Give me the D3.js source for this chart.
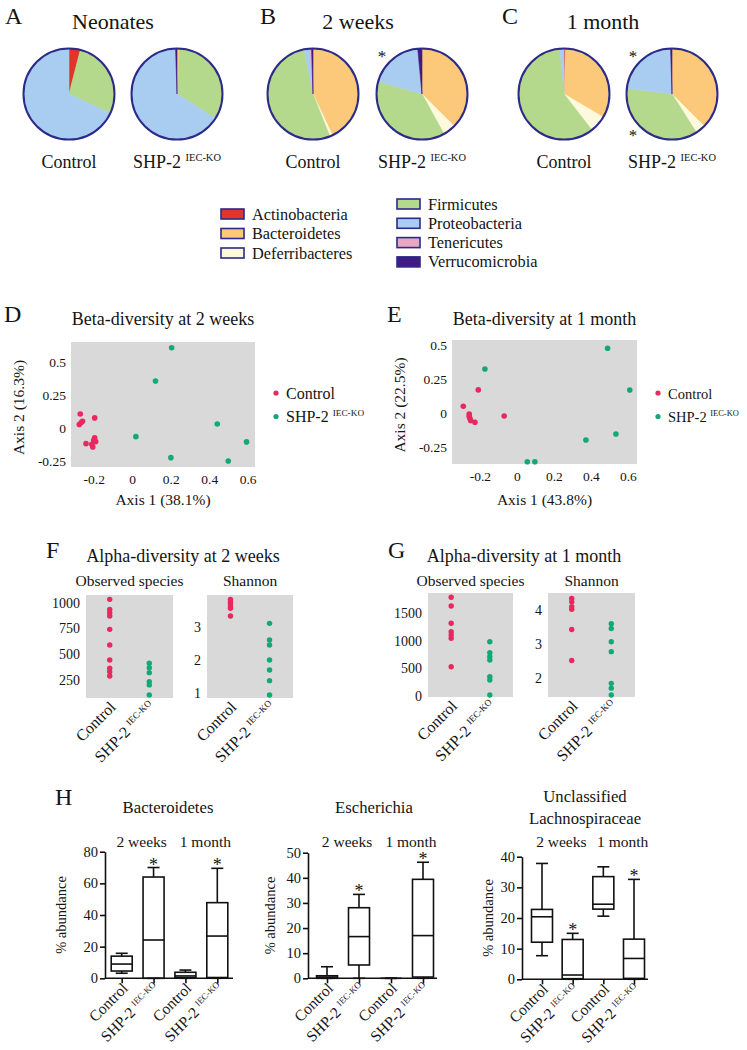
<!DOCTYPE html>
<html><head><meta charset="utf-8">
<script src="https://cdn.jsdelivr.net/npm/d3@7"></script>
<style>
body{margin:0;background:#fff}
svg{display:block;font-family:"Liberation Serif","Times New Roman",serif}
text{fill:#141414;font-family:"Liberation Serif","Times New Roman",serif}
</style>
</head><body><script>
// ---------------- DATA ----------------
const phyla = ["Actinobacteria","Bacteroidetes","Deferribacteres","Firmicutes","Proteobacteria","Tenericutes","Verrucomicrobia"];
// relative abundance (%) per phylum, in the order of `phyla`
const pieNeonatesControl = [4, 0, 0, 28, 68, 0, 0];
const pieNeonatesKO      = [0, 1, 0, 33, 65.5, 0, 0.5];
const pie2wControl       = [0, 43, 1, 53, 2, 0.5, 0.5];
const pie2wKO            = [0, 37.5, 4.5, 37.5, 19, 0, 1.5];
const pie1mControl       = [0.5, 33, 6, 59, 1.5, 0, 0];
const pie1mKO            = [0, 37.5, 3.5, 36, 22.5, 0, 0.5];
const pieTitles = ["Neonates","2 weeks","1 month"];

// Beta diversity PCoA coordinates [axis1, axis2]
const beta2wControl = [[-0.27,0.11],[-0.275,0.03],[-0.265,0.045],[-0.258,0.055],[-0.195,0.08],[-0.24,-0.115],[-0.205,-0.14],[-0.195,-0.07],[-0.19,-0.1],[-0.21,-0.12],[-0.2,-0.09]];
const beta2wKO      = [[0.205,0.612],[0.121,0.36],[0.019,-0.062],[0.201,-0.221],[0.442,0.034],[0.499,-0.246],[0.594,-0.102]];
const beta1mControl = [[-0.29,0.05],[-0.209,0.17],[-0.258,-0.007],[-0.254,-0.04],[-0.25,-0.055],[-0.227,-0.068],[-0.069,-0.022],[-0.258,-0.025]];
const beta1mKO      = [[-0.173,0.324],[0.49,0.476],[0.61,0.169],[0.535,-0.154],[0.373,-0.199],[0.056,-0.358],[0.097,-0.358]];
const betaXTicks = [-0.2, 0, 0.2, 0.4, 0.6];
const betaYTicks = [-0.25, 0, 0.25, 0.5];

// Alpha diversity
const alphaObs2wControl = [1032,935,902,870,741,589,444,363,330,289];
const alphaObs2wKO      = [412,369,321,234,202,105];
const alphaSha2wControl = [3.82,3.75,3.68,3.6,3.55,3.32];
const alphaSha2wKO      = [3.1,2.6,2.45,2.0,1.7,1.38,0.95];
const alphaObs1mControl = [1788,1630,1317,1165,1105,1045,531];
const alphaObs1mKO      = [984,785,712,652,350,290,18];
const alphaSha1mControl = [4.34,4.24,4.1,4.02,3.43,2.52];
const alphaSha1mKO      = [3.6,3.46,3.07,2.78,1.85,1.71,1.51];
const alphaObs2wTicks = [250,500,750,1000];
const alphaSha2wTicks = [1,2,3];
const alphaObs1mTicks = [0,500,1000,1500];
const alphaSha1mTicks = [2,3,4];

// Box plots: [min, q1, median, q3, max] for Control 2w, KO 2w, Control 1m, KO 1m
const boxCategories = ["Control 2w","KO 2w","Control 1m","KO 1m"];
const boxBacteroidetes = [[3.2,4.6,9,14,15.8],[0,0,24.2,64,70],[0,0.5,1.5,3.8,5.2],[0,0.5,26.7,47.8,69.5]];
const boxEscherichia   = [[0,0,0.5,1,4.6],[0,5.3,16.6,28.1,33.4],[0,0,0,0,0],[0,0.5,17,39.4,46.2]];
const boxLachno        = [[7.7,12.1,20.4,22.8,37.8],[0,0.2,1.4,13,15],[20.6,22.9,24.5,33.5,36.7],[0,0.3,6.8,13.1,32.6]];
const boxSignificant   = [false,true,false,true];
const bactTicks = [0,20,40,60,80];
const eschTicks = [0,10,20,30,40,50];
const lachTicks = [0,10,20,30,40];

// ---------------- STYLE ----------------
const phylumColors = ["#e2342a","#fcc97a","#fdf9dc","#b4d88c","#a9cdf0","#e8a7c4","#421a84"];
const navy = "#2c2a8a";
const ctrlColor = "#e8285f", koColor = "#13a877", panelBg = "#d9d9d9";
const plain = d => String(d);

const svg = d3.select("body").append("svg").attr("width",747).attr("height",1050);

function txt(x,y,s,size,anchor){
  return svg.append("text").attr("x",x).attr("y",y).attr("font-size",size)
    .attr("text-anchor",anchor||"middle").text(s);
}
function koLabel(x,y,size,anchor,rot){
  const t = svg.append("text").attr("x",x).attr("y",y).attr("font-size",size).attr("text-anchor",anchor||"middle");
  if(rot) t.attr("transform",`rotate(${rot},${x},${y})`);
  t.append("tspan").text("SHP-2 ");
  t.append("tspan").attr("font-size",size*0.58).attr("dy",-size*0.38).text("IEC-KO");
  return t;
}
function styleAxisText(g,size){
  g.attr("font-family",null).attr("font-size",size);
  g.selectAll("text").attr("font-size",size);
}

// ---------------- PANEL LETTERS ----------------
[["A",5,24],["B",260,24],["C",502,24],["D",4,322],["E",387,322],["F",46,558],["G",388,558],["H",55,805]]
  .forEach(([l,x,y])=>txt(x,y,l,24,"start"));

// ---------------- PIES ----------------
const pieSets = [[pieNeonatesControl,pieNeonatesKO],[pie2wControl,pie2wKO],[pie1mControl,pie1mKO]];
const pieCx = [[69,177],[313,422],[564,672]];
const pieCy = 94, pieR = 45.5;
const titleX = [113,358,603];
const pieGen = d3.pie().sort(null).value(d=>d.v);
const arcGen = d3.arc().innerRadius(0).outerRadius(pieR);
pieSets.forEach((pair,gi)=>{
  txt(titleX[gi], 29, pieTitles[gi], 22);
  pair.forEach((vals,k)=>{
    const cx = pieCx[gi][k];
    const g = svg.append("g").attr("transform",`translate(${cx},${pieCy})`);
    const arcs = pieGen(vals.map((v,i)=>({v,i}))).filter(a=>a.data.v>0);
    g.selectAll("path").data(arcs).join("path").attr("d",arcGen)
      .attr("fill",d=>phylumColors[d.data.i]).attr("stroke",d=>phylumColors[d.data.i]).attr("stroke-width",0.6);
    g.append("circle").attr("r",pieR).attr("fill","none").attr("stroke",navy).attr("stroke-width",2);
    if(k===0) txt(cx,168,"Control",18); else koLabel(cx,168,18);
  });
});
// significance stars on pies
txt(pieCx[1][1]-40, 62, "*", 17);
txt(pieCx[2][1]-39, 62, "*", 17);
txt(pieCx[2][1]-39, 141, "*", 17);

// pie legend
phyla.forEach((p,i)=>{
  const left = i<3;
  const sx = left ? 221 : 397;
  const sy = left ? 214 + i*19.5 : 204 + (i-3)*19.3;
  svg.append("rect").attr("x",sx).attr("y",sy-5).attr("width",23).attr("height",10)
    .attr("fill",phylumColors[i]).attr("stroke",navy).attr("stroke-width",1.6);
  txt(sx+31, sy+5.5, p, 16.3, "start");
});

// ---------------- BETA DIVERSITY ----------------
function drawBeta(c){
  const x = d3.scaleLinear().domain(c.xDom).range([c.x0,c.x1]);
  const y = d3.scaleLinear().domain(c.yDom).range([c.y1,c.y0]);
  svg.append("rect").attr("x",c.x0).attr("y",c.y0).attr("width",c.x1-c.x0).attr("height",c.y1-c.y0).attr("fill",panelBg);
  txt((c.x0+c.x1)/2, 325, c.title, 18);
  const gx = svg.append("g").attr("transform",`translate(0,${c.y1})`)
    .call(d3.axisBottom(x).tickValues(betaXTicks).tickSize(0).tickPadding(7).tickFormat(plain));
  const gy = svg.append("g").attr("transform",`translate(${c.x0},0)`)
    .call(d3.axisLeft(y).tickValues(betaYTicks).tickSize(0).tickPadding(5).tickFormat(plain));
  [gx,gy].forEach(g=>{g.select(".domain").remove(); styleAxisText(g,13.5);});
  txt((c.x0+c.x1)/2, 505, c.xLabel, 15.5);
  txt(0,0,c.yLabel,15.5).attr("transform",`translate(${c.yLabX},${(c.y0+c.y1)/2+3}) rotate(-90)`);
  svg.append("g").selectAll("circle").data(c.control).join("circle")
    .attr("cx",d=>x(d[0])).attr("cy",d=>y(d[1])).attr("r",2.8).attr("fill",ctrlColor);
  svg.append("g").selectAll("circle").data(c.ko).join("circle")
    .attr("cx",d=>x(d[0])).attr("cy",d=>y(d[1])).attr("r",2.8).attr("fill",koColor);
  svg.append("circle").attr("cx",c.legX).attr("cy",393).attr("r",2.6).attr("fill",ctrlColor);
  txt(c.legX+10, 398.5, "Control", c.legSize, "start");
  svg.append("circle").attr("cx",c.legX).attr("cy",416.5).attr("r",2.6).attr("fill",koColor);
  koLabel(c.legX+10, 422, c.legSize, "start");
}
drawBeta({x0:71,x1:255,y0:342,y1:467,xDom:[-0.318,0.638],yDom:[-0.292,0.655],
  title:"Beta-diversity at 2 weeks",xLabel:"Axis 1 (38.1%)",yLabel:"Axis 2 (16.3%)",yLabX:24,legX:276,legSize:16,
  control:beta2wControl,ko:beta2wKO});
drawBeta({x0:452,x1:637,y0:340,y1:464,xDom:[-0.351,0.649],yDom:[-0.375,0.537],
  title:"Beta-diversity at 1 month",xLabel:"Axis 1 (43.8%)",yLabel:"Axis 2 (22.5%)",yLabX:405,legX:658,legSize:14.5,
  control:beta1mControl,ko:beta1mKO});

// ---------------- ALPHA DIVERSITY ----------------
function drawAlpha(c){
  const x = d3.scalePoint().domain(["Control","KO"]).range([c.x0,c.x1]).padding(0.6);
  const y = d3.scaleLinear().domain(c.yDom).range([c.y1,c.y0]);
  svg.append("rect").attr("x",c.x0).attr("y",c.y0).attr("width",c.x1-c.x0).attr("height",c.y1-c.y0).attr("fill",panelBg);
  txt((c.x0+c.x1)/2, 586, c.title, 15.5);
  const gy = svg.append("g").attr("transform",`translate(${c.x0},0)`)
    .call(d3.axisLeft(y).tickValues(c.ticks).tickSize(0).tickPadding(6).tickFormat(plain));
  gy.select(".domain").remove(); styleAxisText(gy,14);
  [["Control",c.control,ctrlColor],["KO",c.ko,koColor]].forEach(([k,vals,col])=>{
    svg.append("g").selectAll("circle").data(vals).join("circle")
      .attr("cx",x(k)).attr("cy",d=>y(d)).attr("r",2.7).attr("fill",col);
  });
  const xc = x("Control")+7, xk = x("KO")+7, yb = c.y1+10;
  txt(xc, yb, "Control", 16, "end").attr("transform",`rotate(-45,${xc},${yb})`);
  koLabel(xk, yb, 16, "end", -45);
}
txt(183, 562, "Alpha-diversity at 2 weeks", 18);
txt(524, 562, "Alpha-diversity at 1 month", 18);
drawAlpha({x0:86,x1:173,y0:595,y1:698,yDom:[75,1074],ticks:alphaObs2wTicks,title:"Observed species",control:alphaObs2wControl,ko:alphaObs2wKO});
drawAlpha({x0:207,x1:293,y0:595,y1:698,yDom:[0.86,3.95],ticks:alphaSha2wTicks,title:"Shannon",control:alphaSha2wControl,ko:alphaSha2wKO});
drawAlpha({x0:428,x1:513,y0:593,y1:697,yDom:[-18,1866],ticks:alphaObs1mTicks,title:"Observed species",control:alphaObs1mControl,ko:alphaObs1mKO});
drawAlpha({x0:548,x1:635,y0:593,y1:697,yDom:[1.45,4.5],ticks:alphaSha1mTicks,title:"Shannon",control:alphaSha1mControl,ko:alphaSha1mKO});

// ---------------- BOX PLOTS ----------------
function drawBox(c){
  const y = d3.scaleLinear().domain([0,c.ticks[c.ticks.length-1]]).range([c.yBase,c.yTop]);
  const x = d3.scalePoint().domain(boxCategories).range(c.catRange);
  const g = svg.append("g");
  const gy = g.append("g").attr("transform",`translate(${c.axisX},0)`)
    .call(d3.axisLeft(y).tickValues(c.ticks).tickSize(5).tickSizeOuter(0).tickPadding(2).tickFormat(plain));
  styleAxisText(gy,14.5);
  gy.selectAll("line,path").attr("stroke","#111").attr("stroke-width",1.6);
  const gx = g.append("g").attr("transform",`translate(0,${c.yBase})`)
    .call(d3.axisBottom(x).tickSize(5).tickSizeOuter(0).tickFormat(""));
  gx.select(".domain").remove();
  gx.selectAll("line").attr("stroke","#111").attr("stroke-width",1.6);
  g.append("line").attr("x1",c.axisX).attr("x2",c.axisEnd).attr("y1",c.yBase).attr("y2",c.yBase)
    .attr("stroke","#111").attr("stroke-width",1.6);
  const bw = 21, cw = 12;
  c.data.forEach((s,i)=>{
    const cx = x(boxCategories[i]);
    const bg = g.append("g").attr("stroke","#111").attr("stroke-width",1.6).attr("fill","none");
    bg.append("line").attr("x1",cx).attr("x2",cx).attr("y1",y(s[4])).attr("y2",y(s[3]));
    bg.append("line").attr("x1",cx).attr("x2",cx).attr("y1",y(s[1])).attr("y2",y(s[0]));
    bg.append("line").attr("x1",cx-cw/2).attr("x2",cx+cw/2).attr("y1",y(s[4])).attr("y2",y(s[4]));
    bg.append("line").attr("x1",cx-cw/2).attr("x2",cx+cw/2).attr("y1",y(s[0])).attr("y2",y(s[0]));
    bg.append("rect").attr("x",cx-bw/2).attr("y",y(s[3])).attr("width",bw).attr("height",y(s[1])-y(s[3]));
    bg.append("line").attr("x1",cx-bw/2).attr("x2",cx+bw/2).attr("y1",y(s[2])).attr("y2",y(s[2]));
    if(boxSignificant[i]) txt(cx, y(s[4])+3, "*", 18);
  });
  const cats = boxCategories.map(k=>x(k));
  txt((cats[0]+cats[1])/2+4, 847, "2 weeks", 15.5);
  txt((cats[2]+cats[3])/2+4, 847, "1 month", 15.5);
  txt(0,0,"% abundance",14.5).attr("transform",`translate(${c.yLabX},${(c.yBase+c.yTop)/2}) rotate(-90)`);
  c.titles.forEach((t,k)=>txt(c.titleX, c.titleY[k], t, 16.7));
  [0,2].forEach(i=>txt(cats[i]+7, c.yBase+11, "Control", 15.5, "end").attr("transform",`rotate(-45,${cats[i]+7},${c.yBase+11})`));
  [1,3].forEach(i=>koLabel(cats[i]+7, c.yBase+11, 15.5, "end", -45));
}
drawBox({axisX:105,axisEnd:233,yBase:978.3,yTop:851.7,catRange:[121.7,217.3],ticks:bactTicks,data:boxBacteroidetes,
  yLabX:66,titles:["Bacteroidetes"],titleX:168,titleY:[813]});
drawBox({axisX:308,axisEnd:437,yBase:978.3,yTop:852.7,catRange:[327,423],ticks:eschTicks,data:boxEscherichia,
  yLabX:275,titles:["Escherichia"],titleX:374,titleY:[813]});
drawBox({axisX:522,axisEnd:648,yBase:979.3,yTop:856.7,catRange:[542,634],ticks:lachTicks,data:boxLachno,
  yLabX:493,titles:["Unclassified","Lachnospiraceae"],titleX:585,titleY:[802,824]});
</script></body></html>
